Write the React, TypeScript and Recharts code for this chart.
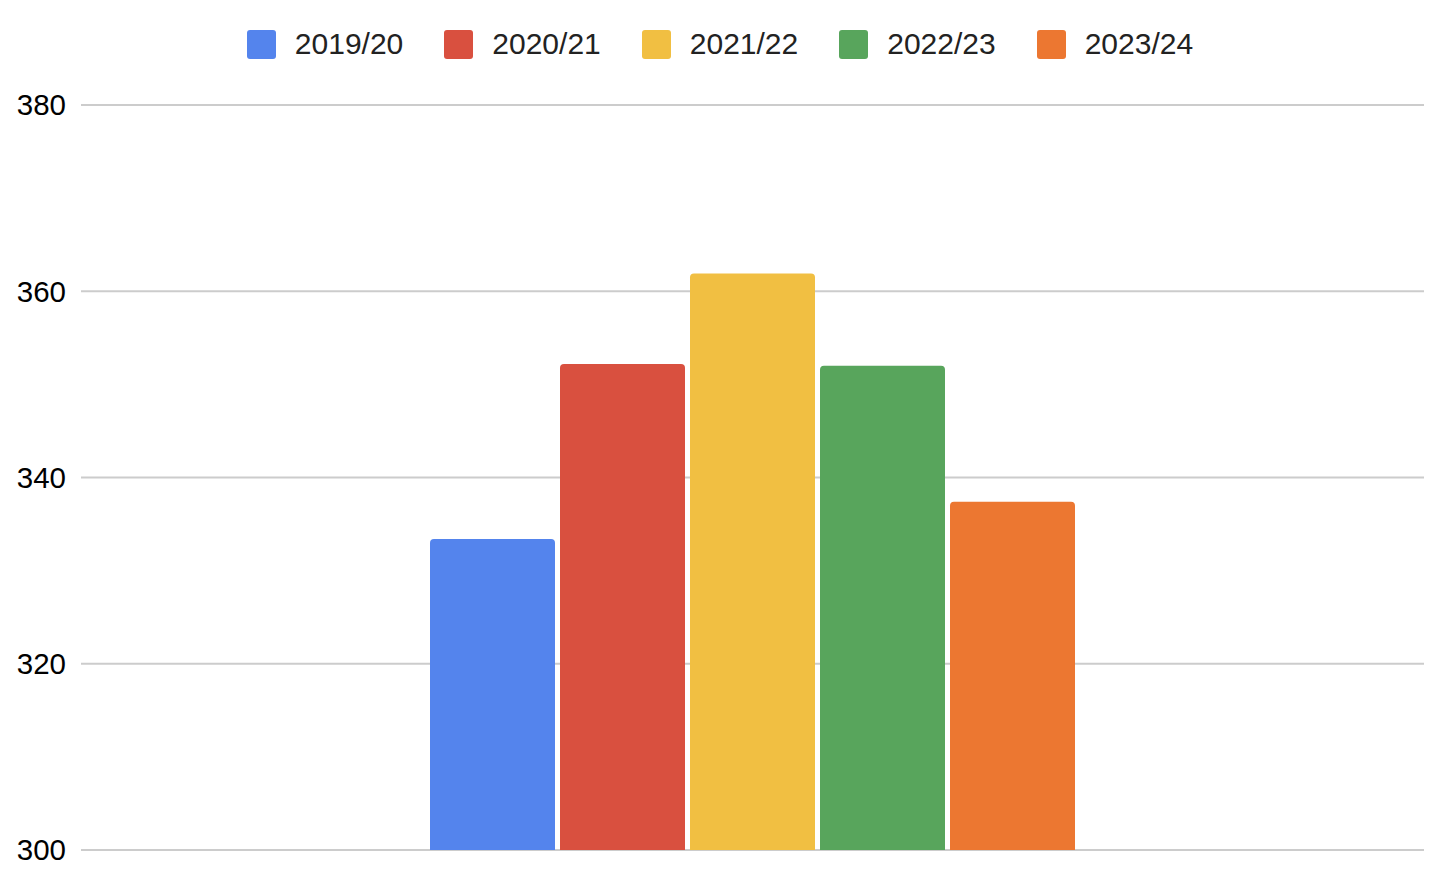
import { BarChart, Bar, XAxis, YAxis, CartesianGrid } from "recharts";

const seasons = ["2019/20", "2020/21", "2021/22", "2022/23", "2023/24"];
const values = [333.4, 352.2, 361.9, 352.0, 337.4];
const colors = ["#5484ED", "#D9503F", "#F1BF42", "#58A55C", "#EC7731"];
const yTicks = [300, 320, 340, 360, 380];

const FONT = "'Liberation Sans', Arial, sans-serif";

// one category row, one key per season
const row: Record<string, string | number> = { name: "" };
seasons.forEach((s, i) => {
  row[s] = values[i];
});
const data = [row];

const LegendRow = () => (
  <div
    style={{
      position: "absolute",
      top: 27,
      left: 5,
      width: 1430,
      display: "flex",
      justifyContent: "center",
      alignItems: "center",
      gap: 41,
      fontFamily: FONT,
      fontSize: 30,
      color: "#222",
    }}
  >
    {seasons.map((s, i) => (
      <span key={s} style={{ display: "flex", alignItems: "center", gap: 19 }}>
        <span
          style={{
            display: "inline-block",
            width: 29,
            height: 29,
            borderRadius: 3,
            background: colors[i],
          }}
        />
        <span>{s}</span>
      </span>
    ))}
  </div>
);

export default function App() {
  return (
    <div style={{ position: "absolute", left: 0, top: 0, width: 1430, height: 878, background: "#fff", overflow: "hidden" }}>
      <BarChart
        width={1430}
        height={878}
        data={data}
        margin={{ top: 105, right: 6, left: 1, bottom: 28 }}
        barGap={5}
        barSize={125}
      >
        <CartesianGrid vertical={false} stroke="#cccccc" strokeWidth={2} />
        <XAxis dataKey="name" hide />
        <YAxis
          domain={[300, 380]}
          ticks={yTicks}
          allowDataOverflow
          axisLine={false}
          tickLine={false}
          tickMargin={9}
          width={80}
          tick={{ fontSize: 29.5, fill: "#000", fontFamily: FONT }}
        />
        {seasons.map((s, i) => (
          <Bar
            key={s}
            dataKey={s}
            fill={colors[i]}
            radius={[4, 4, 0, 0]}
            isAnimationActive={false}
          />
        ))}
      </BarChart>
      <LegendRow />
    </div>
  );
}
